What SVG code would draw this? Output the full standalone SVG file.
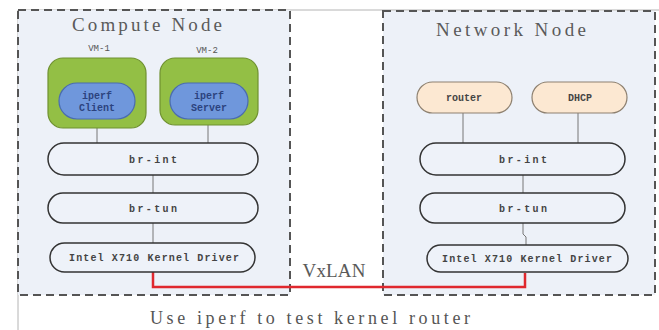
<svg xmlns="http://www.w3.org/2000/svg" width="659" height="330" viewBox="0 0 659 330">
  <defs>
    <style>
      .frame { fill: none; stroke: #b4b4b4; stroke-width: 1; }
      .host { fill: #edf1f8; stroke: #555; stroke-width: 2; stroke-dasharray: 8 5; }
      .title { font-family: "Liberation Serif", serif; font-size: 19px; fill: #5a5a5a; }
      .vmlabel { font-family: "Liberation Mono", monospace; font-size: 9px; fill: #555; }
      .vm { fill: #93bf45; stroke: #6f9130; stroke-width: 1.2; }
      .app { fill: #6f97dc; stroke: #4a6cb0; stroke-width: 1.2; }
      .applabel { font-family: "Liberation Mono", monospace; font-size: 10px; font-weight: bold; fill: #2c437e; }
      .svc { fill: #fce8d2; stroke: #8d8070; stroke-width: 1.2; }
      .bridge { fill: #eef2f9; stroke: #333; stroke-width: 1.5; }
      .label { font-family: "Liberation Mono", monospace; font-size: 10px; font-weight: bold; fill: #444; }
      .link { fill: none; stroke: #777; stroke-width: 1; }
      .tunnel { fill: none; stroke: #e0282e; stroke-width: 2.5; }
      .caption { font-family: "Liberation Serif", serif; font-size: 18px; fill: #555; }
    </style>
  </defs>

  <!-- outer frame -->
  <path class="frame" d="M18 330 V10 H659"/>

  <!-- compute host -->
  <g id="compute-node">
    <rect class="host" x="18" y="10" width="272" height="285"/>
    <text class="title" x="147" y="31" text-anchor="middle" textLength="150" lengthAdjust="spacing">Compute Node</text>
  </g>

  <!-- network host -->
  <g id="network-node">
    <rect class="host" x="383" y="11" width="272" height="284"/>
    <text class="title" x="511" y="36" text-anchor="middle" textLength="150" lengthAdjust="spacing">Network Node</text>
  </g>

  <!-- connectors -->
  <g id="connectors">
    <line class="link" x1="97" y1="128" x2="97" y2="143"/>
    <line class="link" x1="208" y1="125" x2="208" y2="143"/>
    <line class="link" x1="153" y1="175" x2="153" y2="193"/>
    <line class="link" x1="153" y1="223" x2="153" y2="243"/>
    <line class="link" x1="463" y1="113" x2="463" y2="143"/>
    <line class="link" x1="578" y1="113" x2="578" y2="143"/>
    <line class="link" x1="523" y1="175" x2="523" y2="193"/>
    <path class="link" d="M523 223 V234 L526 237 V245"/>
    <path class="tunnel" d="M153 272 V287 H525 V273"/>
    <text class="title" x="334" y="277" text-anchor="middle" textLength="63" lengthAdjust="spacing">VxLAN</text>
  </g>

  <!-- VM-1 -->
  <g id="vm-1">
    <text class="vmlabel" x="99" y="51" text-anchor="middle">VM-1</text>
    <rect class="vm" x="48" y="58" width="98" height="70" rx="15"/>
    <rect class="app" x="59" y="83" width="76" height="36" rx="18"/>
    <text class="applabel" x="97" y="99" text-anchor="middle">iperf</text>
    <text class="applabel" x="97" y="111" text-anchor="middle">Client</text>
  </g>

  <!-- VM-2 -->
  <g id="vm-2">
    <text class="vmlabel" x="207" y="53" text-anchor="middle">VM-2</text>
    <rect class="vm" x="160" y="58" width="98" height="67" rx="15"/>
    <rect class="app" x="170" y="83" width="78" height="36" rx="18"/>
    <text class="applabel" x="209" y="99" text-anchor="middle">iperf</text>
    <text class="applabel" x="209" y="111" text-anchor="middle">Server</text>
  </g>

  <!-- compute bridges -->
  <g id="compute-br-int">
    <rect class="bridge" x="48" y="143" width="210" height="32" rx="16"/>
    <text class="label" x="153" y="163" text-anchor="middle" textLength="48" lengthAdjust="spacing">br-int</text>
  </g>
  <g id="compute-br-tun">
    <rect class="bridge" x="48" y="193" width="210" height="30" rx="15"/>
    <text class="label" x="153" y="212" text-anchor="middle" textLength="48" lengthAdjust="spacing">br-tun</text>
  </g>
  <g id="compute-driver">
    <rect class="bridge" x="50" y="243" width="205" height="29" rx="14.5"/>
    <text class="label" x="154" y="261" text-anchor="middle" textLength="170" lengthAdjust="spacing">Intel X710 Kernel Driver</text>
  </g>

  <!-- network services -->
  <g id="router">
    <rect class="svc" x="417" y="82" width="95" height="31" rx="15.5"/>
    <text class="label" x="464" y="101" text-anchor="middle" font-weight="normal">router</text>
  </g>
  <g id="dhcp">
    <rect class="svc" x="532" y="82" width="95" height="31" rx="15.5"/>
    <text class="label" x="580" y="101" text-anchor="middle" font-weight="normal">DHCP</text>
  </g>

  <!-- network bridges -->
  <g id="network-br-int">
    <rect class="bridge" x="420" y="143" width="205" height="32" rx="16"/>
    <text class="label" x="523" y="163" text-anchor="middle" textLength="48" lengthAdjust="spacing">br-int</text>
  </g>
  <g id="network-br-tun">
    <rect class="bridge" x="420" y="193" width="205" height="30" rx="15"/>
    <text class="label" x="523" y="212" text-anchor="middle" textLength="48" lengthAdjust="spacing">br-tun</text>
  </g>
  <g id="network-driver">
    <rect class="bridge" x="427" y="245" width="201" height="27" rx="13.5"/>
    <text class="label" x="527" y="262" text-anchor="middle" textLength="170" lengthAdjust="spacing">Intel X710 Kernel Driver</text>
  </g>

  <!-- caption -->
  <text class="caption" x="310" y="324" text-anchor="middle" textLength="320" lengthAdjust="spacing">Use iperf to test kernel router</text>
</svg>
